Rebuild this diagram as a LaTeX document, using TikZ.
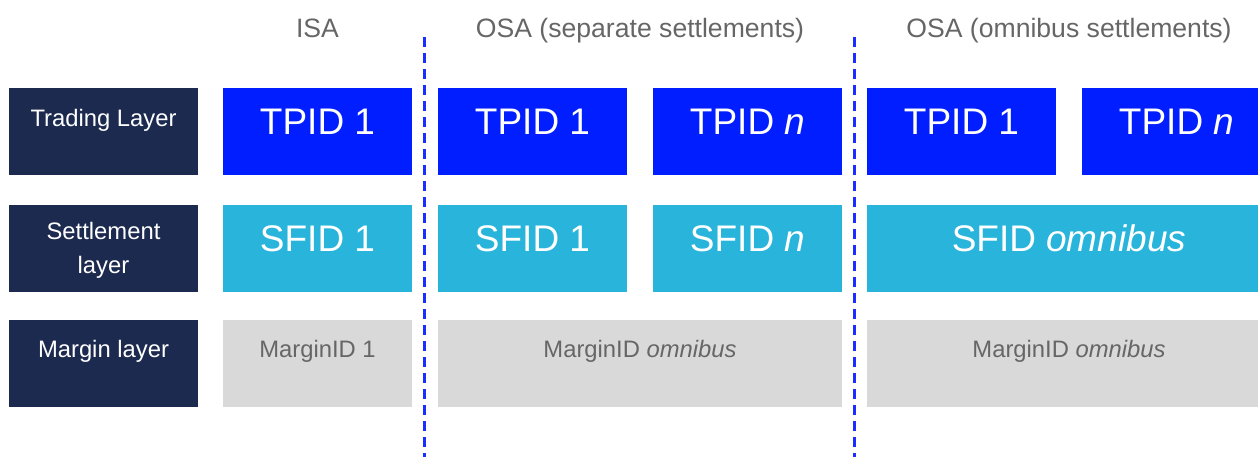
\documentclass[tikz,border=0pt]{standalone}
\usepackage{fontspec}
\setmainfont{Liberation Sans}
\definecolor{navy}{HTML}{1C2A50}
\definecolor{tblue}{HTML}{001EFF}
\definecolor{scyan}{HTML}{29B5DB}
\definecolor{mgrey}{HTML}{D9D9D9}
\definecolor{tgrey}{HTML}{666666}
\definecolor{dblue}{HTML}{1A2EFF}
\begin{document}
\begin{tikzpicture}[x=1pt,y=-1pt,
  box/.style={anchor=north west,inner sep=0pt,minimum height=87pt,minimum width=189pt,draw=none},
  labbox/.style={box,fill=navy},
  tbox/.style={box,fill=tblue},
  sbox/.style={box,fill=scyan},
  gbox/.style={box,fill=mgrey},
  labtxt/.style={anchor=base,inner sep=0pt,text=white,font=\fontsize{23.8}{33.3}\selectfont,align=center},
  bigtxt/.style={anchor=base,inner sep=0pt,text=white,font=\fontsize{37}{40}\selectfont},
  mtxt/.style={anchor=base,inner sep=0pt,text=tgrey,font=\fontsize{23.8}{28}\selectfont},
  htxt/.style={anchor=base,inner sep=0pt,text=tgrey,font=\fontsize{26.6}{30}\selectfont},
  sep/.style={draw=dblue,line width=2.5pt,dash pattern=on 10pt off 6pt}
]
\useasboundingbox (0,0) rectangle (1258,457);
\clip (0,0) rectangle (1258,457);
% headers
\node[htxt] (hisa) at (317.5,37.3) {ISA};
\node[htxt] (hsep) at (640,37.3) {OSA (separate settlements)};
\node[htxt] (homn) at (1069,37.3) {OSA (omnibus settlements)};
% row labels
\node[labbox] (l1) at (9,88) {};
\node[labbox] (l2) at (9,205) {};
\node[labbox] (l3) at (9,320) {};
\node[labtxt] (l1t) at (103.5,126.7) {Trading Layer};
\node[labtxt] (l2t) at (103.5,273.3) {Settlement\\layer};
\node[labtxt] (l3t) at (103.5,357.7) {Margin layer};
% trading layer
\node[tbox] (t1) at (223,88) {};
\node[tbox] (t2) at (438,88) {};
\node[tbox] (t3) at (653,88) {};
\node[tbox] (t4) at (867,88) {};
\node[tbox] (t5) at (1082,88) {};
\node[bigtxt] (t1t) at (317.5,135) {TPID 1};
\node[bigtxt] (t2t) at (532.5,135) {TPID 1};
\node[bigtxt] (t3t) at (747.5,135) {TPID \textit{n}};
\node[bigtxt] (t4t) at (961.5,135) {TPID 1};
\node[bigtxt] (t5t) at (1176.5,135) {TPID \textit{n}};
% settlement layer
\node[sbox] (s1) at (223,205) {};
\node[sbox] (s2) at (438,205) {};
\node[sbox] (s3) at (653,205) {};
\node[sbox,minimum width=404pt] (s4) at (867,205) {};
\node[bigtxt] (s1t) at (317.5,251.7) {SFID 1};
\node[bigtxt] (s2t) at (532.5,251.7) {SFID 1};
\node[bigtxt] (s3t) at (747.5,251.7) {SFID \textit{n}};
\node[bigtxt] (s4t) at (1069,251.7) {SFID \textit{omnibus}};
% margin layer
\node[gbox] (m1) at (223,320) {};
\node[gbox,minimum width=404pt] (m2) at (438,320) {};
\node[gbox,minimum width=404pt] (m3) at (867,320) {};
\node[mtxt] (m1t) at (317.5,357.7) {MarginID 1};
\node[mtxt] (m2t) at (640,357.7) {MarginID \textit{omnibus}};
\node[mtxt] (m3t) at (1069,357.7) {MarginID \textit{omnibus}};
% separators
\coordinate (d1a) at (424.5,37);
\coordinate (d1b) at (424.5,460);
\coordinate (d2a) at (854.5,37);
\coordinate (d2b) at (854.5,460);
\draw[sep] (d1a) -- (d1b);
\draw[sep] (d2a) -- (d2b);
\end{tikzpicture}
\end{document}
